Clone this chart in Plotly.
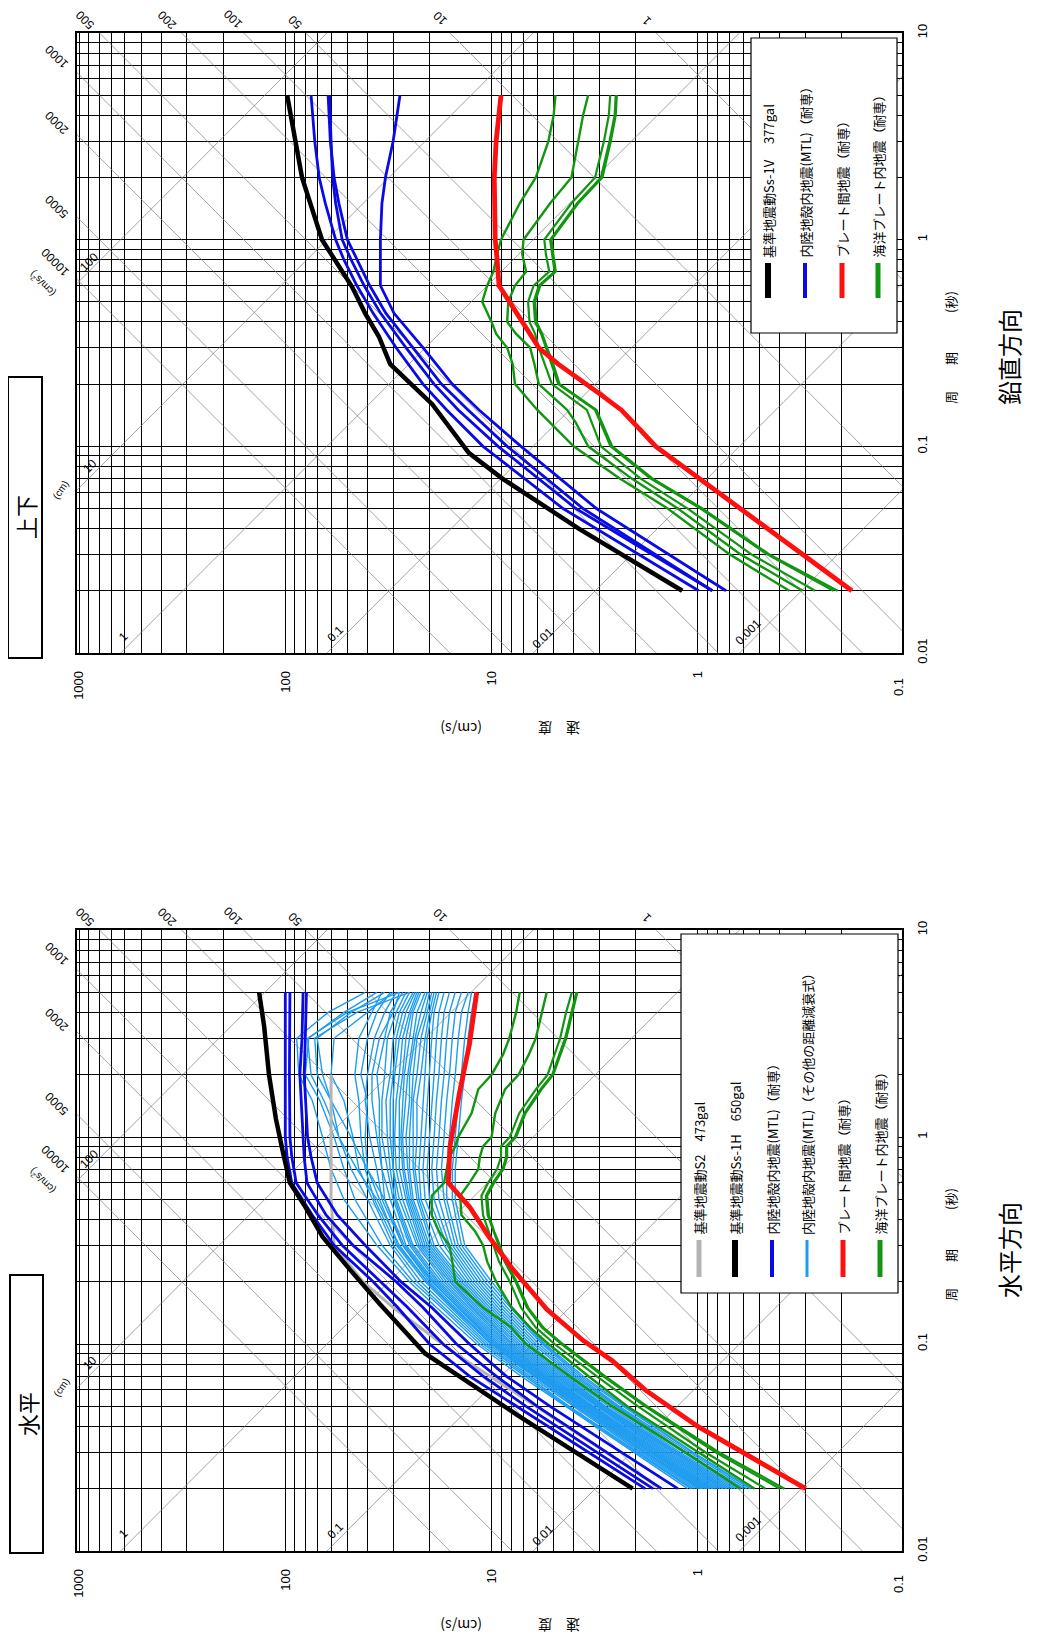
import math
import plotly.graph_objects as go

W, H = 1039, 1641
OFF = 8                      # browser body margin
FW, FH = W - OFF, H - OFF    # figure size

# ---------------- grid definitions ----------------
VEL_DECADES = [0.1, 1, 10, 100]
PER_DECADES = [0.01, 0.1, 1]
DIGITS = [1, 2, 3, 4, 5, 6, 7, 8, 9]
VEL_LABELS = {1: "1", 10: "10", 100: "100", 1000: "1000"}
PER_LABELS = {0.01: "0.01", 0.1: "0.1", 1: "1", 10: "10"}
DISP_LINES = [0.001, 0.01, 0.1, 1, 10, 100]                        # cm
ACC_LINES = [1, 10, 50, 100, 200, 500, 1000, 2000, 5000, 10000]     # cm/s2

# ---------------- 鉛直方向 (vertical) data ----------------
SS1V_T = [0.02, 0.04, 0.07, 0.093, 0.16, 0.25, 0.34, 0.44, 0.59, 0.8, 1.0, 2.0, 5.0]
SS1V_V = [1.19, 3.78, 8.9, 12.9, 19.4, 31.0, 35.2, 41.0, 47.4, 58.0, 66.4, 83.0, 98.0]

VMTL_T = [0.02, 0.05, 0.1, 0.15, 0.2, 0.3, 0.44, 0.6, 0.8, 1.0, 1.5, 2.0, 3.0, 5.0]
VMTL_1 = [0.99, 4.5, 11.0, 16.5, 21.5, 29.0, 37.5, 45.0, 52.0, 57.0, 64.0, 68.5, 72.0, 75.0]
VMTL_2 = [0.85, 3.9, 9.3, 14.5, 19.0, 26.0, 34.5, 41.5, 48.0, 53.0, 57.0, 59.0, 60.0, 61.0]
VMTL_3 = [0.85, 3.6, 8.4, 13.0, 17.5, 24.0, 32.5, 39.0, 45.0, 50.0, 55.0, 58.0, 60.5, 62.0]
VMTL_4 = [0.73, 3.1, 7.2, 11.5, 15.5, 21.5, 29.7, 34.6, 34.6, 34.6, 34.0, 32.7, 30.0, 27.8]

VPLATE_T = [0.02, 0.05, 0.1, 0.12, 0.15, 0.18, 0.215, 0.25, 0.3, 0.39, 0.51, 0.6, 0.8, 1.0, 2.0, 3.0, 5.0]
VPLATE_V = [0.179, 0.62, 1.6, 1.9, 2.35, 3.0, 3.85, 4.75, 5.9, 7.0, 8.4, 9.2, 9.4, 9.6, 9.7, 9.5, 9.0]

VSLAB_T = [0.02, 0.03, 0.05, 0.07, 0.1, 0.13, 0.15, 0.2, 0.25, 0.3, 0.35, 0.4, 0.5, 0.6, 0.7, 0.85, 1.0, 1.5, 2.0, 3.0, 4.0, 5.0]
VSLAB_1 = [0.36, 0.70, 1.40, 2.40, 4.0, 5.2, 6.0, 7.7, 7.9, 8.4, 9.5, 10.0, 11.1, 10.5, 9.8, 9.4, 9.0, 7.3, 6.1, 5.3, 5.0, 4.9]
VSLAB_2 = [0.31, 0.62, 1.25, 2.10, 3.4, 3.9, 4.3, 5.9, 6.2, 6.5, 7.6, 8.4, 8.3, 7.7, 6.8, 7.1, 7.0, 5.2, 4.1, 3.8, 3.6, 3.4]
VSLAB_3 = [0.27, 0.55, 1.12, 1.90, 2.95, 3.25, 3.45, 5.1, 5.5, 5.9, 6.15, 6.55, 6.65, 6.25, 5.25, 5.45, 5.55, 4.1, 3.15, 2.85, 2.7, 2.66]
VSLAB_4 = [0.22, 0.46, 0.97, 1.70, 2.65, 2.95, 3.15, 4.75, 5.1, 5.45, 5.75, 6.15, 6.25, 5.9, 4.95, 5.1, 5.2, 3.85, 2.95, 2.68, 2.53, 2.5]
VSLAB_5 = [0.21, 0.45, 0.95, 1.66, 2.6, 2.9, 3.1, 4.68, 5.02, 5.38, 5.68, 6.05, 6.15, 5.8, 4.88, 5.02, 5.12, 3.8, 2.9, 2.64, 2.5, 2.47]

# ---------------- 水平方向 (horizontal) data ----------------
S2_T = [0.02, 0.09, 0.15, 0.2, 0.3, 0.5, 1.0, 2.0]
S2_V = [1.5, 15.0, 30.0, 42.0, 58.0, 60.0, 60.0, 60.0]

SS1H_T = [0.02, 0.045, 0.09, 0.117, 0.157, 0.228, 0.33, 0.46, 0.6, 0.837, 1.22, 2.0, 3.41, 5.0]
SS1H_V = [2.07, 7.4, 21.0, 26.8, 35.0, 48.5, 66.0, 80.0, 95.0, 102.5, 111.0, 120.0, 126.6, 134.0]

HMTL_T = [0.02, 0.05, 0.07, 0.1, 0.15, 0.2, 0.3, 0.42, 0.6, 0.8, 1.0, 2.0, 3.0, 5.0]
HMTL_1 = [1.80, 7.6, 12.8, 20.0, 28.5, 37.5, 58.0, 74.0, 93.0, 98.0, 100.0, 100.0, 100.0, 100.0]
HMTL_2 = [1.65, 6.8, 11.0, 17.2, 25.5, 34.5, 53.0, 69.5, 88.5, 93.0, 95.0, 95.5, 95.0, 95.0]
HMTL_3 = [1.50, 6.0, 9.5, 14.8, 21.5, 29.0, 47.0, 63.5, 78.5, 81.0, 82.0, 85.0, 83.0, 82.0]
HMTL_4 = [1.25, 5.2, 8.5, 12.8, 19.5, 27.5, 41.0, 56.0, 70.0, 75.0, 78.0, 81.0, 80.0, 79.0]

LB_T = [0.02, 0.03, 0.05, 0.07, 0.1, 0.15, 0.2, 0.3, 0.5, 0.7, 1.0, 1.5, 2.0, 3.0, 4.0, 5.0]
LB01 = [1.12, 2.05, 4.4, 7.2, 11.8, 18.5, 25.0, 36.0, 52.0, 60.0, 66.0, 74.0, 86.0, 88.0, 62.0, 41.0]
LB02 = [1.08, 2.00, 4.3, 6.9, 11.4, 17.5, 24.0, 34.0, 46.0, 52.0, 58.0, 68.0, 80.0, 77.0, 52.0, 36.0]
LB03 = [1.06, 1.95, 4.2, 6.7, 11.0, 17.0, 23.0, 31.0, 40.0, 48.0, 55.0, 60.0, 66.0, 70.0, 48.0, 33.0]
LB04 = [1.03, 1.90, 4.0, 6.5, 10.7, 16.2, 22.0, 30.0, 38.0, 44.0, 47.0, 52.0, 60.0, 58.0, 40.0, 30.0]
LB05 = [1.00, 1.86, 3.9, 6.3, 10.4, 15.8, 21.0, 29.0, 37.0, 41.0, 43.0, 44.0, 46.0, 44.0, 38.0, 34.0]
LB06 = [0.98, 1.82, 3.8, 6.2, 10.1, 15.3, 20.5, 28.5, 35.0, 40.0, 41.0, 40.0, 43.0, 40.0, 36.0, 31.0]
LB07 = [0.96, 1.78, 3.7, 6.0, 9.9, 15.0, 20.0, 27.0, 34.0, 36.0, 39.0, 41.0, 40.0, 37.0, 33.0, 29.0]
LB08 = [0.94, 1.74, 3.65, 5.9, 9.7, 14.6, 19.2, 26.5, 33.0, 34.0, 36.0, 38.0, 38.0, 35.0, 30.0, 28.0]
LB09 = [0.92, 1.70, 3.6, 5.8, 9.5, 14.2, 18.8, 26.0, 31.0, 34.0, 35.0, 35.0, 36.0, 33.0, 31.0, 27.0]
LB10 = [0.90, 1.67, 3.5, 5.7, 9.3, 13.9, 18.4, 25.0, 30.0, 32.0, 34.0, 34.0, 33.0, 32.0, 29.0, 26.0]
LB11 = [0.88, 1.64, 3.45, 5.6, 9.1, 13.5, 18.0, 24.5, 29.5, 31.0, 32.0, 32.5, 31.0, 30.0, 28.0, 25.0]
LB12 = [0.87, 1.61, 3.4, 5.5, 8.9, 13.2, 17.5, 24.0, 29.0, 30.0, 31.0, 31.0, 30.0, 29.0, 27.0, 24.0]
LB13 = [0.85, 1.58, 3.35, 5.4, 8.7, 12.9, 17.0, 23.0, 28.0, 30.0, 30.0, 30.0, 29.5, 28.0, 26.0, 23.5]
LB14 = [0.84, 1.55, 3.3, 5.3, 8.5, 12.6, 16.5, 22.5, 27.0, 29.0, 29.5, 29.0, 28.0, 27.0, 25.0, 23.0]
LB15 = [0.82, 1.52, 3.25, 5.2, 8.3, 12.3, 16.0, 22.0, 26.0, 28.0, 28.0, 28.0, 27.0, 26.0, 24.5, 22.5]
LB16 = [0.80, 1.49, 3.2, 5.1, 8.1, 12.0, 15.6, 21.5, 25.5, 27.0, 27.5, 27.0, 26.5, 25.0, 24.0, 22.0]
LB17 = [0.78, 1.46, 3.1, 5.0, 7.9, 11.7, 15.2, 21.0, 25.0, 26.5, 27.0, 26.0, 25.5, 24.0, 23.0, 21.0]
LB18 = [0.76, 1.43, 3.05, 4.9, 7.7, 11.4, 14.8, 20.5, 24.5, 25.5, 26.0, 25.0, 25.0, 23.5, 22.0, 20.5]
LB19 = [0.75, 1.40, 3.0, 4.8, 7.5, 11.1, 14.4, 20.0, 24.0, 25.0, 25.0, 24.5, 24.0, 23.0, 21.0, 20.0]
LB20 = [0.73, 1.37, 2.95, 4.7, 7.3, 10.8, 14.0, 19.5, 23.0, 24.0, 24.0, 24.0, 23.0, 22.0, 20.5, 19.5]
LB21 = [0.72, 1.34, 2.9, 4.6, 7.1, 10.5, 13.6, 19.0, 22.5, 23.5, 23.0, 23.0, 22.0, 21.0, 20.0, 19.0]
LB22 = [0.70, 1.31, 2.85, 4.5, 6.9, 10.2, 13.2, 18.0, 22.0, 22.5, 22.0, 21.5, 21.0, 20.5, 19.5, 18.5]
LB23 = [0.68, 1.28, 2.8, 4.4, 6.7, 9.9, 12.8, 17.0, 21.0, 21.5, 21.0, 20.5, 20.0, 19.5, 19.0, 18.0]
LB24 = [0.66, 1.25, 2.7, 4.3, 6.5, 9.6, 12.4, 16.5, 20.0, 20.5, 20.0, 19.5, 19.0, 18.5, 18.0, 17.0]
LB25 = [0.64, 1.22, 2.6, 4.1, 6.3, 9.3, 12.0, 16.0, 19.0, 19.5, 19.0, 18.5, 18.0, 17.5, 17.0, 16.0]
LB26 = [0.62, 1.18, 2.5, 4.0, 6.1, 9.0, 11.6, 15.5, 18.0, 18.5, 18.0, 17.5, 17.0, 16.5, 16.0, 15.0]
LB27 = [0.60, 1.14, 2.45, 3.9, 5.9, 8.7, 11.2, 15.0, 17.0, 17.5, 17.0, 16.5, 16.0, 15.5, 15.0, 14.0]
LB28 = [0.58, 1.10, 2.4, 3.8, 5.7, 8.4, 10.8, 14.5, 16.5, 16.5, 16.0, 15.5, 15.0, 14.5, 14.0, 13.0]
LB29 = [0.56, 1.07, 2.3, 3.7, 5.6, 8.1, 10.4, 14.0, 15.5, 15.5, 15.0, 14.5, 14.0, 13.5, 13.0, 12.5]
LB30 = [0.55, 1.05, 2.25, 3.6, 5.5, 7.9, 10.0, 13.5, 15.0, 15.0, 14.5, 14.0, 13.5, 13.0, 12.5, 12.0]
LB31 = [0.95, 1.80, 3.8, 6.1, 10.0, 15.5, 20.5, 28.0, 36.0, 45.0, 55.0, 65.0, 75.0, 78.0, 50.0, 28.0]
LB32 = [0.90, 1.70, 3.6, 5.8, 9.5, 14.5, 19.5, 27.0, 33.0, 40.0, 48.0, 60.0, 70.0, 72.0, 45.0, 25.0]
LB_ALL = [LB01, LB02, LB03, LB04, LB05, LB06, LB07, LB08, LB09, LB10, LB11, LB12, LB13, LB14, LB15, LB16,
          LB17, LB18, LB19, LB20, LB21, LB22, LB23, LB24, LB25, LB26, LB27, LB28, LB29, LB30, LB31, LB32]

HPLATE_T = [0.02, 0.04, 0.06, 0.083, 0.104, 0.147, 0.23, 0.33, 0.46, 0.6, 0.9, 1.64, 2.8, 5.0]
HPLATE_V = [0.3, 1.0, 1.8, 2.6, 3.6, 5.4, 7.9, 10.3, 12.8, 16.2, 15.9, 14.3, 12.8, 11.8]

HSLAB_T = [0.02, 0.03, 0.05, 0.07, 0.1, 0.12, 0.15, 0.2, 0.25, 0.3, 0.35, 0.42, 0.52, 0.6, 0.7, 0.8, 0.9, 1.0, 1.3, 1.7, 2.0, 2.5, 3.0, 4.0, 5.0]
HSLAB_1 = [0.62, 1.15, 2.6, 4.2, 6.8, 8.0, 11.0, 15.0, 15.5, 16.0, 18.0, 19.5, 19.5, 17.0, 16.5, 16.0, 15.0, 14.5, 12.5, 11.6, 10.0, 8.8, 8.2, 7.6, 7.3]
HSLAB_2 = [0.53, 1.0, 2.2, 3.4, 5.3, 6.5, 8.0, 9.5, 10.5, 11.0, 12.0, 14.0, 14.2, 12.8, 11.6, 11.4, 11.0, 10.0, 9.6, 8.6, 7.4, 6.6, 6.1, 5.7, 5.4]
HSLAB_3 = [0.47, 0.92, 1.95, 3.1, 4.95, 6.1, 7.2, 8.15, 9.2, 9.8, 10.4, 11.0, 11.2, 10.4, 9.4, 9.0, 9.0, 8.15, 7.35, 6.1, 5.35, 4.95, 4.65, 4.35, 4.08]
HSLAB_4 = [0.40, 0.82, 1.8, 2.88, 4.6, 5.7, 6.75, 7.65, 8.65, 9.25, 9.85, 10.45, 10.65, 9.85, 8.85, 8.5, 8.5, 7.7, 6.95, 5.8, 5.08, 4.7, 4.4, 4.1, 3.88]
HSLAB_5 = [0.38, 0.79, 1.76, 2.82, 4.52, 5.6, 6.65, 7.55, 8.55, 9.12, 9.72, 10.3, 10.5, 9.72, 8.75, 8.4, 8.4, 7.6, 6.85, 5.72, 5.02, 4.64, 4.34, 4.05, 3.84]

# ---------------- colours ----------------
C_BLACK = "#000000"
C_GRAY = "#b4b4b4"
C_BLUE = "#0a0ae6"
C_LBLUE = "#1e9cf0"
C_RED = "#ff1010"
C_GREEN = "#129612"
C_DIAG = "rgba(120,120,120,0.75)"

FONT = "Liberation Sans, Arial, sans-serif"
JFONT = "Noto Sans CJK JP, sans-serif"


def px(x):
    return (x - OFF) / FW


def py(y):
    return 1 - (y - OFF) / FH


X0, X1 = 77, 902
VEL_RANGE = [3.01, -0.99]   # log10 range across the plot width

fig = go.Figure()

vel_vals = [round(d * k, 6) for d in VEL_DECADES for k in DIGITS] + [1000]
vel_text = [VEL_LABELS.get(v, "") for v in vel_vals]
per_vals = [round(d * k, 6) for d in PER_DECADES for k in DIGITS] + [10]
per_text = [PER_LABELS.get(v, "") for v in per_vals]


def add_diagonals(xa, ya):
    for d in DISP_LINES:
        t = [0.001, 100]
        v = [2 * math.pi * d / ti for ti in t]
        fig.add_trace(go.Scatter(x=v, y=t, mode="lines", xaxis=xa, yaxis=ya,
                                 line=dict(color=C_DIAG, width=0.9), hoverinfo="skip", showlegend=False))
    for a in ACC_LINES:
        t = [0.001, 100]
        v = [a * ti / (2 * math.pi) for ti in t]
        fig.add_trace(go.Scatter(x=v, y=t, mode="lines", xaxis=xa, yaxis=ya,
                                 line=dict(color=C_DIAG, width=0.9), hoverinfo="skip", showlegend=False))


def curve(T, V, color, width, xa, ya):
    fig.add_trace(go.Scatter(x=V, y=T, mode="lines", xaxis=xa, yaxis=ya,
                             line=dict(color=color, width=width), hoverinfo="skip", showlegend=False))


# --- top panel (鉛直方向)
add_diagonals("x", "y")
for g in [VSLAB_1, VSLAB_2]:
    curve(VSLAB_T, g, C_GREEN, 2.4, "x", "y")
for g in [VSLAB_3, VSLAB_4, VSLAB_5]:
    curve(VSLAB_T, g, C_GREEN, 2.2, "x", "y")
curve(VPLATE_T, VPLATE_V, C_RED, 4.8, "x", "y")
for b in [VMTL_1, VMTL_2, VMTL_3, VMTL_4]:
    curve(VMTL_T, b, C_BLUE, 2.8, "x", "y")
curve(SS1V_T, SS1V_V, C_BLACK, 4.5, "x", "y")

# --- bottom panel (水平方向)
add_diagonals("x2", "y2")
for lb in LB_ALL:
    curve(LB_T, lb, C_LBLUE, 1.4, "x2", "y2")
for g in [HSLAB_1, HSLAB_2]:
    curve(HSLAB_T, g, C_GREEN, 2.4, "x2", "y2")
for g in [HSLAB_3, HSLAB_4, HSLAB_5]:
    curve(HSLAB_T, g, C_GREEN, 2.2, "x2", "y2")
curve(HPLATE_T, HPLATE_V, C_RED, 4.8, "x2", "y2")
curve(S2_T, S2_V, C_GRAY, 3.0, "x2", "y2")
for b in [HMTL_1, HMTL_2, HMTL_3, HMTL_4]:
    curve(HMTL_T, b, C_BLUE, 2.8, "x2", "y2")
curve(SS1H_T, SS1H_V, C_BLACK, 4.5, "x2", "y2")

xaxis_common = dict(type="log", range=VEL_RANGE, tickmode="array", tickvals=vel_vals, ticktext=vel_text,
                    showgrid=True, gridcolor="#000000", gridwidth=1, zeroline=False,
                    showline=True, mirror=True, linecolor="#000000", linewidth=1.5,
                    ticks="", tickangle=-90, ticklabelstandoff=11,
                    tickfont=dict(family=FONT, size=13, color="#000"), automargin=False,
                    domain=[px(X0), px(X1)], fixedrange=True)
yaxis_common = dict(type="log", range=[-2, 1], tickmode="array", tickvals=per_vals, ticktext=per_text,
                    showgrid=True, gridcolor="#000000", gridwidth=1, zeroline=False,
                    showline=True, mirror=True, linecolor="#000000", linewidth=1.5,
                    ticks="", tickangle=-90, side="right", ticklabelstandoff=8,
                    tickfont=dict(family=FONT, size=13, color="#000"), automargin=False, fixedrange=True)

fig.update_layout(
    width=FW, height=FH, margin=dict(l=0, r=0, t=0, b=0),
    paper_bgcolor="white", plot_bgcolor="white", showlegend=False,
    xaxis=dict(xaxis_common, anchor="y"),
    yaxis=dict(yaxis_common, anchor="x", domain=[py(653), py(33)]),
    xaxis2=dict(xaxis_common, anchor="y2"),
    yaxis2=dict(yaxis_common, anchor="x2", domain=[py(1551), py(930)]),
)

annotations = []
shapes = []


def ann(x, y, text, size=12, angle=0, family=FONT, xanchor="center", yanchor="middle", color="#000"):
    annotations.append(dict(x=px(x), y=py(y), xref="paper", yref="paper", text=text, showarrow=False,
                            textangle=angle, xanchor=xanchor, yanchor=yanchor,
                            font=dict(family=family, size=size, color=color)))


for dy in (0, 897):
    for (x, y, t) in [(85, 20, "500"), (167, 20, "200"), (233, 19, "100"), (295, 22, "50"),
                      (440, 18, "10"), (647, 21, "1"), (57, 57, "1000"), (57, 123, "2000"),
                      (57, 207, "5000"), (55, 262, "10000")]:
        ann(x, y + dy, t, size=12, angle=-135)
    ann(42, 284 + dy, "(cm/s<sup>2</sup>)", size=10, angle=-135)
    for (x, y, t) in [(123, 637, "1"), (335, 634, "0.1"), (543, 638, "0.01"), (748, 632, "0.001"),
                      (90, 466, "10"), (89, 262, "100")]:
        ann(x, y + dy, t, size=12, angle=-45)
    ann(61, 490 + dy, "(cm)", size=10, angle=-55)
    ann(950, 348 + dy, "周　　期　　　(秒)", size=13, angle=-90, family=JFONT)
    ann(510, 729 + dy, "速　度　　　　(cm/s)", size=14, angle=180, family=JFONT)
    # velocity label at the right-hand end of the axis
    ann(898, 676 + dy, "0.1", size=13, angle=-90, yanchor="top")

ann(1008, 357, "鉛直方向", size=24, angle=-90, family=JFONT)
ann(1008, 1250, "水平方向", size=24, angle=-90, family=JFONT)

shapes.append(dict(type="rect", xref="paper", yref="paper", x0=px(8), x1=px(42), y0=py(658), y1=py(377),
                   line=dict(color="#000", width=2), fillcolor="white"))
ann(25, 517, "上下", size=22, angle=-90, family=JFONT)
shapes.append(dict(type="rect", xref="paper", yref="paper", x0=px(10), x1=px(43), y0=py(1553), y1=py(1275),
                   line=dict(color="#000", width=2), fillcolor="white"))
ann(27, 1414, "水平", size=22, angle=-90, family=JFONT)

LEG_TOP = [(768, C_BLACK, 6, "基準地震動Ss-1V　 377gal"),
           (805, C_BLUE, 4, "内陸地殻内地震(MTL)（耐専）"),
           (842, C_RED, 5, "プレート間地震（耐専）"),
           (878, C_GREEN, 5, "海洋プレート内地震（耐専）")]
LEG_BOT = [(699, C_GRAY, 5, "基準地震動S2　473gal"),
           (735, C_BLACK, 6, "基準地震動Ss-1H　650gal"),
           (772, C_BLUE, 4, "内陸地殻内地震(MTL)（耐専）"),
           (807, C_LBLUE, 3, "内陸地殻内地震(MTL)（その他の距離減衰式）"),
           (843, C_RED, 5, "プレート間地震（耐専）"),
           (880, C_GREEN, 5, "海洋プレート内地震（耐専）")]

for box, items, ly0, ly1 in (((751, 38, 897, 333), LEG_TOP, 263, 298),
                             ((681, 934, 898, 1293), LEG_BOT, 1240, 1277)):
    shapes.append(dict(type="rect", xref="paper", yref="paper", x0=px(box[0]), x1=px(box[2]),
                       y0=py(box[3]), y1=py(box[1]), line=dict(color="#000", width=1.2),
                       fillcolor="white", layer="above"))
    for (x, c, w, t) in items:
        shapes.append(dict(type="line", xref="paper", yref="paper", x0=px(x), x1=px(x),
                           y0=py(ly1), y1=py(ly0), line=dict(color=c, width=w), layer="above"))
        ann(x, ly0 - 3, t, size=13, angle=-90, family=JFONT, yanchor="bottom")

fig.update_layout(annotations=annotations, shapes=shapes)
fig.write_html("out.html")
